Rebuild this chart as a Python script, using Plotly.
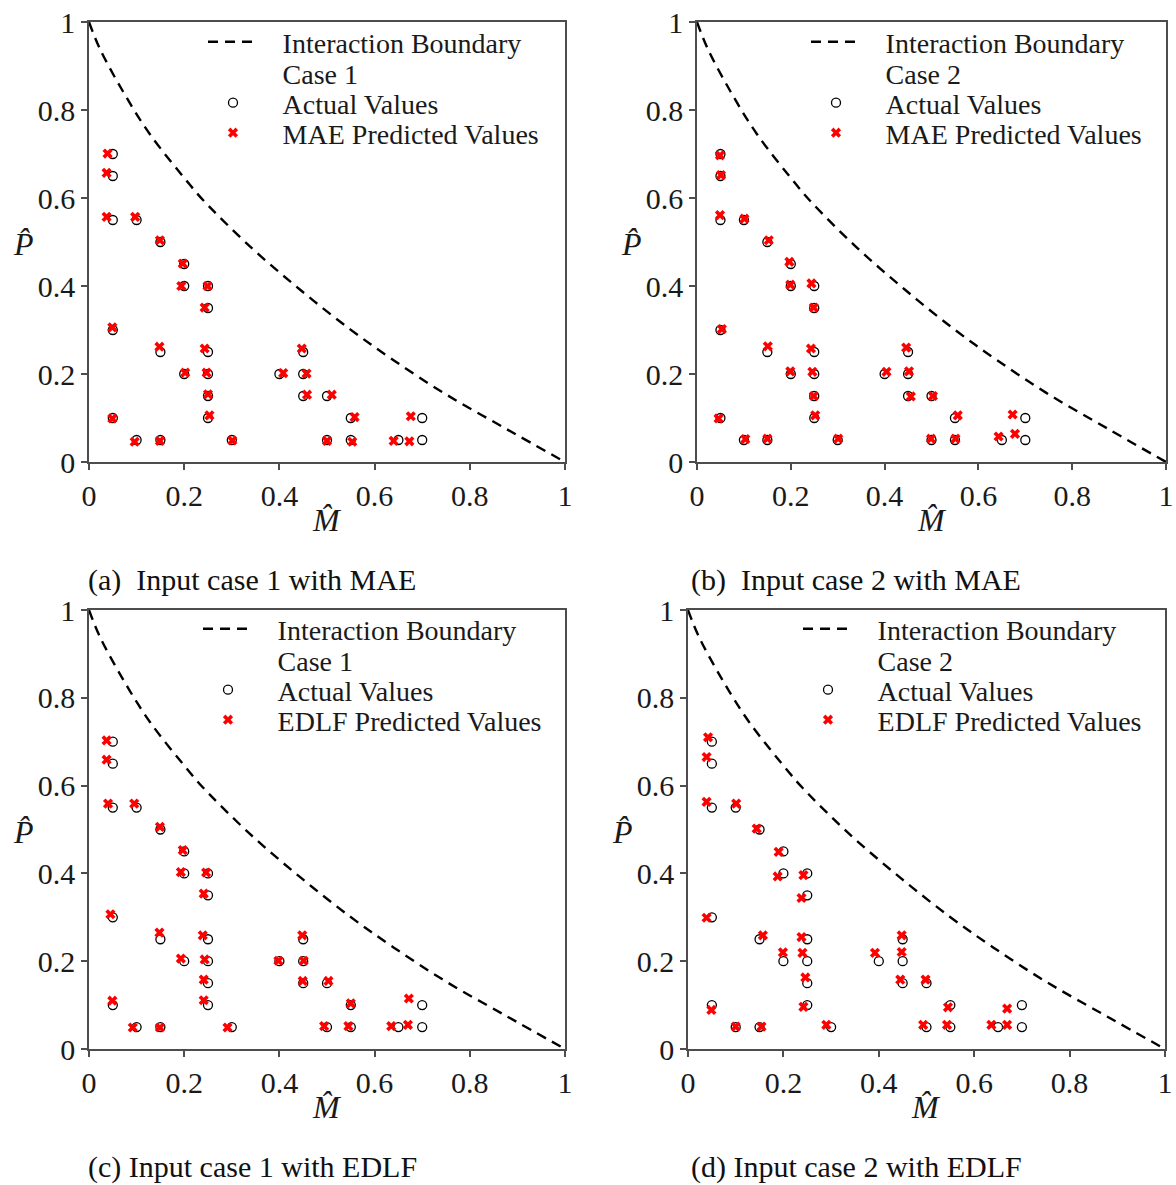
import plotly.graph_objects as go

# ---------------- data ----------------
boundary_m = [0.0, 0.0225, 0.0715, 0.128, 0.212, 0.24, 0.338, 0.443, 0.548, 0.639, 0.751, 0.877, 1.0]
boundary_p = [1.0, 0.940, 0.842, 0.745, 0.630, 0.595, 0.490, 0.392, 0.302, 0.232, 0.153, 0.075, 0.0]

actual_m = [0.05, 0.05, 0.05, 0.10, 0.15, 0.20, 0.20, 0.25, 0.25, 0.05, 0.15, 0.25, 0.45, 0.20, 0.25, 0.40,
            0.45, 0.25, 0.45, 0.50, 0.05, 0.25, 0.55, 0.70, 0.10, 0.15, 0.30, 0.50, 0.55, 0.65, 0.70]
actual_p = [0.70, 0.65, 0.55, 0.55, 0.50, 0.45, 0.40, 0.40, 0.35, 0.30, 0.25, 0.25, 0.25, 0.20, 0.20, 0.20,
            0.20, 0.15, 0.15, 0.15, 0.10, 0.10, 0.10, 0.10, 0.05, 0.05, 0.05, 0.05, 0.05, 0.05, 0.05]

mae1_m = [0.039, 0.037, 0.037, 0.097, 0.149, 0.197, 0.194, 0.249, 0.243, 0.049, 0.148, 0.243, 0.447, 0.202, 0.247, 0.408,
          0.457, 0.250, 0.458, 0.510, 0.049, 0.253, 0.558, 0.676, 0.096, 0.149, 0.301, 0.500, 0.553, 0.640, 0.673]
mae1_p = [0.701, 0.657, 0.557, 0.557, 0.504, 0.451, 0.400, 0.400, 0.351, 0.306, 0.262, 0.258, 0.258, 0.203, 0.203, 0.202,
          0.201, 0.154, 0.153, 0.153, 0.099, 0.106, 0.102, 0.104, 0.046, 0.048, 0.049, 0.048, 0.046, 0.048, 0.047]

mae2_m = [0.049, 0.051, 0.049, 0.101, 0.153, 0.197, 0.199, 0.244, 0.249, 0.053, 0.151, 0.243, 0.446, 0.199, 0.246, 0.404,
          0.452, 0.249, 0.456, 0.503, 0.046, 0.252, 0.556, 0.673, 0.103, 0.150, 0.301, 0.499, 0.551, 0.643, 0.678]
mae2_p = [0.697, 0.652, 0.561, 0.553, 0.504, 0.455, 0.403, 0.406, 0.351, 0.302, 0.263, 0.258, 0.260, 0.206, 0.205, 0.205,
          0.206, 0.150, 0.149, 0.150, 0.099, 0.106, 0.106, 0.108, 0.052, 0.053, 0.053, 0.053, 0.053, 0.058, 0.064]

edlf1_m = [0.037, 0.037, 0.040, 0.095, 0.149, 0.197, 0.193, 0.246, 0.241, 0.045, 0.148, 0.239, 0.448, 0.193, 0.243, 0.398,
           0.451, 0.241, 0.449, 0.503, 0.049, 0.241, 0.550, 0.672, 0.092, 0.149, 0.291, 0.494, 0.545, 0.635, 0.670]
edlf1_p = [0.703, 0.659, 0.559, 0.559, 0.506, 0.453, 0.403, 0.402, 0.354, 0.307, 0.265, 0.259, 0.259, 0.206, 0.204, 0.201,
           0.201, 0.158, 0.155, 0.155, 0.110, 0.111, 0.104, 0.115, 0.049, 0.049, 0.049, 0.052, 0.052, 0.052, 0.055]

edlf2_m = [0.042, 0.039, 0.039, 0.101, 0.144, 0.190, 0.188, 0.242, 0.238, 0.039, 0.157, 0.238, 0.448, 0.199, 0.240, 0.392,
           0.448, 0.246, 0.445, 0.498, 0.049, 0.242, 0.545, 0.669, 0.100, 0.154, 0.290, 0.493, 0.543, 0.636, 0.669]
edlf2_p = [0.710, 0.665, 0.563, 0.559, 0.502, 0.449, 0.393, 0.396, 0.344, 0.299, 0.259, 0.255, 0.259, 0.220, 0.219, 0.219,
           0.221, 0.163, 0.158, 0.158, 0.089, 0.096, 0.095, 0.092, 0.051, 0.051, 0.055, 0.055, 0.055, 0.055, 0.055]

panels = [
    dict(case="Case 1", label="MAE Predicted Values", pm=mae1_m, pp=mae1_p, caption="(a)\u2002Input case 1 with MAE"),
    dict(case="Case 2", label="MAE Predicted Values", pm=mae2_m, pp=mae2_p, caption="(b)\u2002Input case 2 with MAE"),
    dict(case="Case 1", label="EDLF Predicted Values", pm=edlf1_m, pp=edlf1_p, caption="(c) Input case 1 with EDLF"),
    dict(case="Case 2", label="EDLF Predicted Values", pm=edlf2_m, pp=edlf2_p, caption="(d) Input case 2 with EDLF"),
]

# ---------------- layout geometry (pixels) ----------------
W, H = 1176, 1185
FONT = "Liberation Serif"
TXT = "#1a1a1a"
boxes = [  # left, right, top, bottom in px
    (89, 565, 22, 462),
    (697, 1166, 22, 462),
    (89, 565, 610, 1049),
    (688, 1165, 610, 1049),
]
legend_x = [203, 806, 198, 798]          # left of legend key area
legend_rows = [[42, 73, 103, 133], [42, 73, 103, 133],
               [629, 660, 690, 720], [629, 660, 690, 720]]
caption_pos = [(86, 580), (689, 580), (86, 1167), (689, 1167)]

fig = go.Figure()
annotations = []
layout_extra = {}
PAD = "\u2002\u2009"

leg_idx = 0
for i, (pnl, box) in enumerate(zip(panels, boxes)):
    k = "" if i == 0 else str(i + 1)
    xa, ya = "x" + k, "y" + k
    legs = []
    for j in range(4):
        leg_idx += 1
        legs.append("legend" if leg_idx == 1 else "legend" + str(leg_idx))
        layout_extra[legs[-1]] = dict(x=legend_x[i] / W, y=1 - legend_rows[i][j] / H,
                                      xanchor="left", yanchor="middle",
                                      bgcolor="rgba(0,0,0,0)", borderwidth=0, itemwidth=50,
                                      font=dict(family=FONT, size=28, color=TXT))

    fig.add_trace(go.Scatter(x=boundary_m, y=boundary_p, mode="lines", line_shape="spline",
                             line=dict(color="black", width=2.4, dash="10px,7px"),
                             name=PAD + "Interaction Boundary", xaxis=xa, yaxis=ya, legend=legs[0]))
    fig.add_trace(go.Scatter(x=[None], y=[None], mode="markers",
                             marker=dict(color="rgba(0,0,0,0)", size=1),
                             name=PAD + pnl["case"], xaxis=xa, yaxis=ya, legend=legs[1]))
    fig.add_trace(go.Scatter(x=actual_m, y=actual_p, mode="markers",
                             marker=dict(symbol="circle-open", color="black", size=9, line=dict(width=1.3)),
                             name=PAD + "Actual Values", xaxis=xa, yaxis=ya, legend=legs[2]))
    fig.add_trace(go.Scatter(x=pnl["pm"], y=pnl["pp"], mode="markers",
                             marker=dict(symbol="x", color="red", size=9, line=dict(width=0)),
                             name=PAD + pnl["label"], xaxis=xa, yaxis=ya, legend=legs[3]))

    l, r, t, b = box
    axis_common = dict(range=[0, 1], dtick=0.2, tick0=0, showgrid=False, zeroline=False,
                       showline=True, mirror=True, linecolor="#4d4d4d", linewidth=1.5,
                       ticks="outside", ticklen=6, tickcolor="#4d4d4d", tickwidth=1.5,
                       automargin=False, ticklabeloverflow="allow",
                       tickfont=dict(family=FONT, size=30, color=TXT))
    layout_extra["xaxis" + k] = dict(domain=[l / W, r / W], anchor=ya, **axis_common)
    layout_extra["yaxis" + k] = dict(domain=[1 - b / H, 1 - t / H], anchor=xa, **axis_common)

    cx = (l + r) / 2
    annotations.append(dict(text="<i>M\u0302</i>", x=cx / W, y=1 - (b + 58) / H, xref="paper", yref="paper",
                            showarrow=False, xanchor="center", yanchor="middle",
                            font=dict(family=FONT, size=32, color=TXT)))
    annotations.append(dict(text="<i>P\u0302</i>", x=(l - 66) / W, y=1 - ((t + b) / 2 + 2) / H, xref="paper", yref="paper",
                            showarrow=False, xanchor="center", yanchor="middle",
                            font=dict(family=FONT, size=32, color=TXT)))
    capx, capy = caption_pos[i]
    annotations.append(dict(text=pnl["caption"], x=capx / W, y=1 - capy / H, xref="paper", yref="paper",
                            showarrow=False, xanchor="left", yanchor="middle",
                            font=dict(family=FONT, size=30, color="#111111")))

fig.update_layout(width=W, height=H, margin=dict(l=0, r=0, t=0, b=0, autoexpand=False), showlegend=True,
                  paper_bgcolor="white", plot_bgcolor="white",
                  annotations=annotations, **layout_extra)

fig.write_html("out.html")
